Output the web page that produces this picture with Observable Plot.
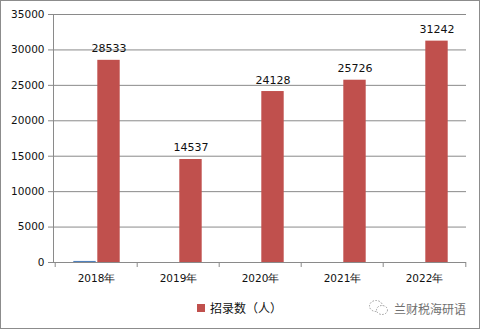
<!DOCTYPE html>
<html>
<head>
<meta charset="utf-8">
<script src="https://cdn.jsdelivr.net/npm/d3@7"></script>
<script src="https://cdn.jsdelivr.net/npm/@observablehq/plot@0.6"></script>
<style>
  html, body { margin: 0; padding: 0; background: #fff; }
  #box { position: absolute; left: 0; top: 0; width: 478px; height: 327px; border: 1px solid #8c8c8c; background: #fff; overflow: hidden; }
  #chart svg { display: block; }
  .legend { position: absolute; left: 196px; top: 298px; font: 12px "Noto Sans CJK SC", sans-serif; color: #111; display: flex; align-items: center; }
  .legend .sw { width: 8px; height: 8px; background: #C0504D; margin-right: 5px; }
  .wm { position: absolute; left: 367px; top: 298px; font: 12px "Noto Sans CJK SC", sans-serif; color: #707070; display: flex; align-items: center; }
</style>
</head>
<body>
<div id="box">
  <div id="chart"></div>
  <div class="legend"><div class="sw"></div><span>招录数（人）</span></div>
  <div class="wm"><svg width="22" height="18" viewBox="0 0 22 18" style="margin-right:4px"><ellipse cx="8" cy="7" rx="6.5" ry="5.5" fill="none" stroke="#9a9a9a" stroke-dasharray="1.5 1.5"/><ellipse cx="14" cy="11" rx="5.5" ry="4.5" fill="#fff" stroke="#9a9a9a" stroke-dasharray="1.5 1.5"/></svg><span>兰财税海研语</span></div>
</div>
<script>
const years = ["2018年", "2019年", "2020年", "2021年", "2022年"];
const recruits = [28533, 14537, 24128, 25726, 31242];
const otherSeries = [150, 0, 0, 0, 0];
const yTicks = [0, 5000, 10000, 15000, 20000, 25000, 30000, 35000];

const red = years.map((y, i) => ({year: y, value: recruits[i]}));
const blue = years.map((y, i) => ({year: y, value: otherSeries[i]}));

const W = 478, H = 290, mL = 52, mR = 13, mT = 13, mB = 29;
const band = (W - mL - mR) / years.length;
const half = band / 2;
const barW = 23;

const chart = Plot.plot({
  width: W, height: H,
  marginLeft: mL, marginRight: mR, marginTop: mT, marginBottom: mB,
  style: {fontFamily: "DejaVu Sans", fontSize: "10.5px", color: "#111", background: "#fff"},
  x: {type: "band", domain: years, padding: 0, label: null},
  y: {domain: [0, 35000], label: null},
  marks: [
    Plot.ruleY(yTicks, {stroke: "#8a8a8a", strokeOpacity: 1}),
    Plot.frame({anchor: "left", stroke: "#8a8a8a"}),
    Plot.axisY({ticks: yTicks, tickSize: 5, tickPadding: 4, stroke: "#8a8a8a", tickFormat: d => String(d), fill: "#111"}),
    Plot.axisX({tickSize: 0, tickPadding: 12, fill: "#111"}),
    Plot.axisX({tickSize: 5, text: null, dx: -half, stroke: "#8a8a8a"}),
    Plot.axisX({ticks: [years[years.length - 1]], tickSize: 5, text: null, dx: half, stroke: "#8a8a8a"}),
    Plot.barY(blue, {x: "year", y: "value", fill: "#4F81BD", insetLeft: half - barW, insetRight: half}),
    Plot.barY(red, {x: "year", y: "value", fill: "#C0504D", insetLeft: half + 1, insetRight: band - half - 1 - barW}),
    Plot.text(red, {x: "year", y: "value", text: d => String(d.value), dx: 1 + barW / 2, dy: -8, lineAnchor: "bottom", fontSize: 11, fill: "#111"})
  ]
});
document.getElementById("chart").appendChild(chart);
</script>
</body>
</html>
